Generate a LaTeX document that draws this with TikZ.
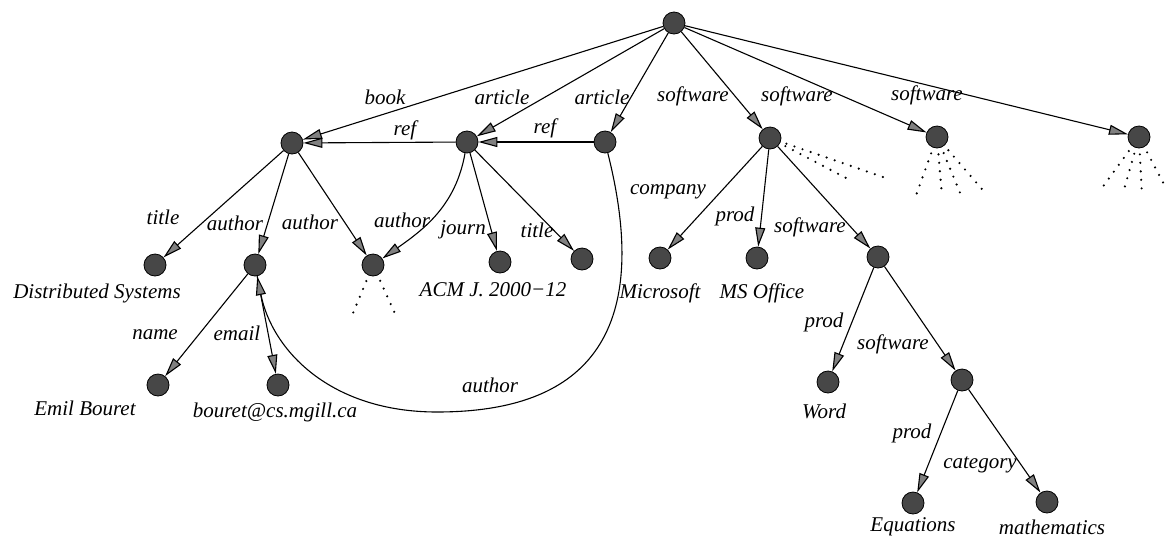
\documentclass[tikz,border=0pt]{standalone}
\usepackage{fontspec}
\setmainfont{Liberation Serif}
\usetikzlibrary{arrows.meta}
\begin{document}
\begin{tikzpicture}[x=1pt,y=-1pt,
  v/.style={circle,draw=black,fill=black!72,minimum size=22pt,inner sep=0pt,line width=0.8pt},
  arr/.style={line width=1.1pt,-{Triangle[length=19pt,width=10pt,fill=black!50]}},
  lbl/.style={font=\fontsize{21}{24}\selectfont\itshape,inner sep=0pt},
  dots/.style={line width=2.4pt,dash pattern=on 0pt off 8.5pt,line cap=round,shorten <=6pt}]
\useasboundingbox (0,0) rectangle (1165,539);
% vertices
\node[v] (root) at (674,23) {};
\node[v] (book) at (292,143) {};
\node[v] (art1) at (467,142) {};
\node[v] (art2) at (605,142) {};
\node[v] (sw1) at (770,138) {};
\node[v] (sw2) at (937,137) {};
\node[v] (sw3) at (1139,137) {};
\node[v] (dsys) at (155,265) {};
\node[v] (auth) at (255,265) {};
\node[v] (tgt) at (373,265) {};
\node[v] (journ) at (500,262) {};
\node[v] (atitle) at (582,259) {};
\node[v] (ms) at (660,258) {};
\node[v] (office) at (757,258) {};
\node[v] (sw4) at (878,257) {};
\node[v] (name) at (158,385) {};
\node[v] (email) at (278,385) {};
\node[v] (word) at (828,382) {};
\node[v] (sw5) at (962,380) {};
\node[v] (eq) at (913,503) {};
\node[v] (math) at (1047,502) {};
% edges
\draw[arr] (root) -- (book);
\draw[arr] (root) -- (art1);
\draw[arr] (root) -- (art2);
\draw[arr] (root) -- (sw1);
\draw[arr] (root) -- (sw2);
\draw[arr] (root) -- (sw3);
\draw[arr] (art1) -- (book);
\draw[arr] (art2) -- (art1);
\draw[arr] (book) -- (dsys);
\draw[arr] (book) -- (auth);
\draw[arr] (book) -- (tgt);
\draw[arr] (art1) to[out=-100,in=35] (tgt);
\draw[arr] (art1) -- (journ);
\draw[arr] (art1) -- (atitle);
\draw[arr] (sw1) -- (ms);
\draw[arr] (sw1) -- (office);
\draw[arr] (sw1) -- (sw4);
\draw[arr] (auth) -- (name);
\draw[arr] (auth) -- (email);
\draw[arr] (sw4) -- (word);
\draw[arr] (sw4) -- (sw5);
\draw[arr] (sw5) -- (eq);
\draw[arr] (sw5) -- (math);
\coordinate (arcbot) at (437,412);
\draw[arr] (art2) .. controls (660,360) and (560,412) .. (arcbot)
  .. controls (330,412) and (272,350) .. (auth);
% dotted continuations
\coordinate (t1) at (351,318); \coordinate (t2) at (397,318);
\draw[dots] (tgt) -- (t1); \draw[dots] (tgt) -- (t2);
\coordinate (s11) at (883,177); \coordinate (s12) at (846,178);
\draw[dots] (sw1) -- (s11); \draw[dots] (sw1) -- (s12);
\coordinate (s21) at (914,201); \coordinate (s22) at (942,196);
\coordinate (s23) at (963,200); \coordinate (s24) at (987,195);
\draw[dots] (sw2) -- (s21); \draw[dots] (sw2) -- (s22);
\draw[dots] (sw2) -- (s23); \draw[dots] (sw2) -- (s24);
\coordinate (s31) at (1099,192); \coordinate (s32) at (1123,193);
\coordinate (s33) at (1142,196); \coordinate (s34) at (1167,190);
\draw[dots] (sw3) -- (s31); \draw[dots] (sw3) -- (s32);
\draw[dots] (sw3) -- (s33); \draw[dots] (sw3) -- (s34);
% edge labels
\node[lbl] (l1) at (385,97) {book};
\node[lbl] (l2) at (502,97) {article};
\node[lbl] (l3) at (602,97) {article};
\node[lbl] (l4) at (693,96) {software};
\node[lbl] (l5) at (797,96) {software};
\node[lbl] (l6) at (927,95) {software};
\node[lbl] (l7) at (405,130) {ref};
\node[lbl] (l8) at (545,128) {ref};
\node[lbl] (l9) at (163,217) {title};
\node[lbl] (l10) at (235,223) {author};
\node[lbl] (l11) at (310,222) {author};
\node[lbl] (l12) at (402,220) {author};
\node[lbl] (l13) at (463,230) {journ};
\node[lbl] (l14) at (537,230) {title};
\node[lbl] (l15) at (668,192) {company};
\node[lbl] (l16) at (735,216) {prod};
\node[lbl] (l17) at (810,227) {software};
\node[lbl] (l18) at (155,335) {name};
\node[lbl] (l19) at (237,333) {email};
\node[lbl] (l20) at (490,385) {author};
\node[lbl] (l21) at (824,322) {prod};
\node[lbl] (l22) at (893,344) {software};
\node[lbl] (l23) at (912,433) {prod};
\node[lbl] (l24) at (980,465) {category};
% leaf values
\node[lbl] (x1) at (97,293) {Distributed Systems};
\node[lbl] (x2) at (85,408) {Emil Bouret};
\node[lbl] (x3) at (275,412) {bouret@cs.mgill.ca};
\node[lbl] (x4) at (493,290) {ACM J. 2000−12};
\node[lbl] (x5) at (660,293) {Microsoft};
\node[lbl] (x6) at (762,293) {MS Office};
\node[lbl] (x7) at (824,411) {Word};
\node[lbl] (x8) at (913,527) {Equations};
\node[lbl] (x9) at (1052,527) {mathematics};
\end{tikzpicture}
\end{document}
